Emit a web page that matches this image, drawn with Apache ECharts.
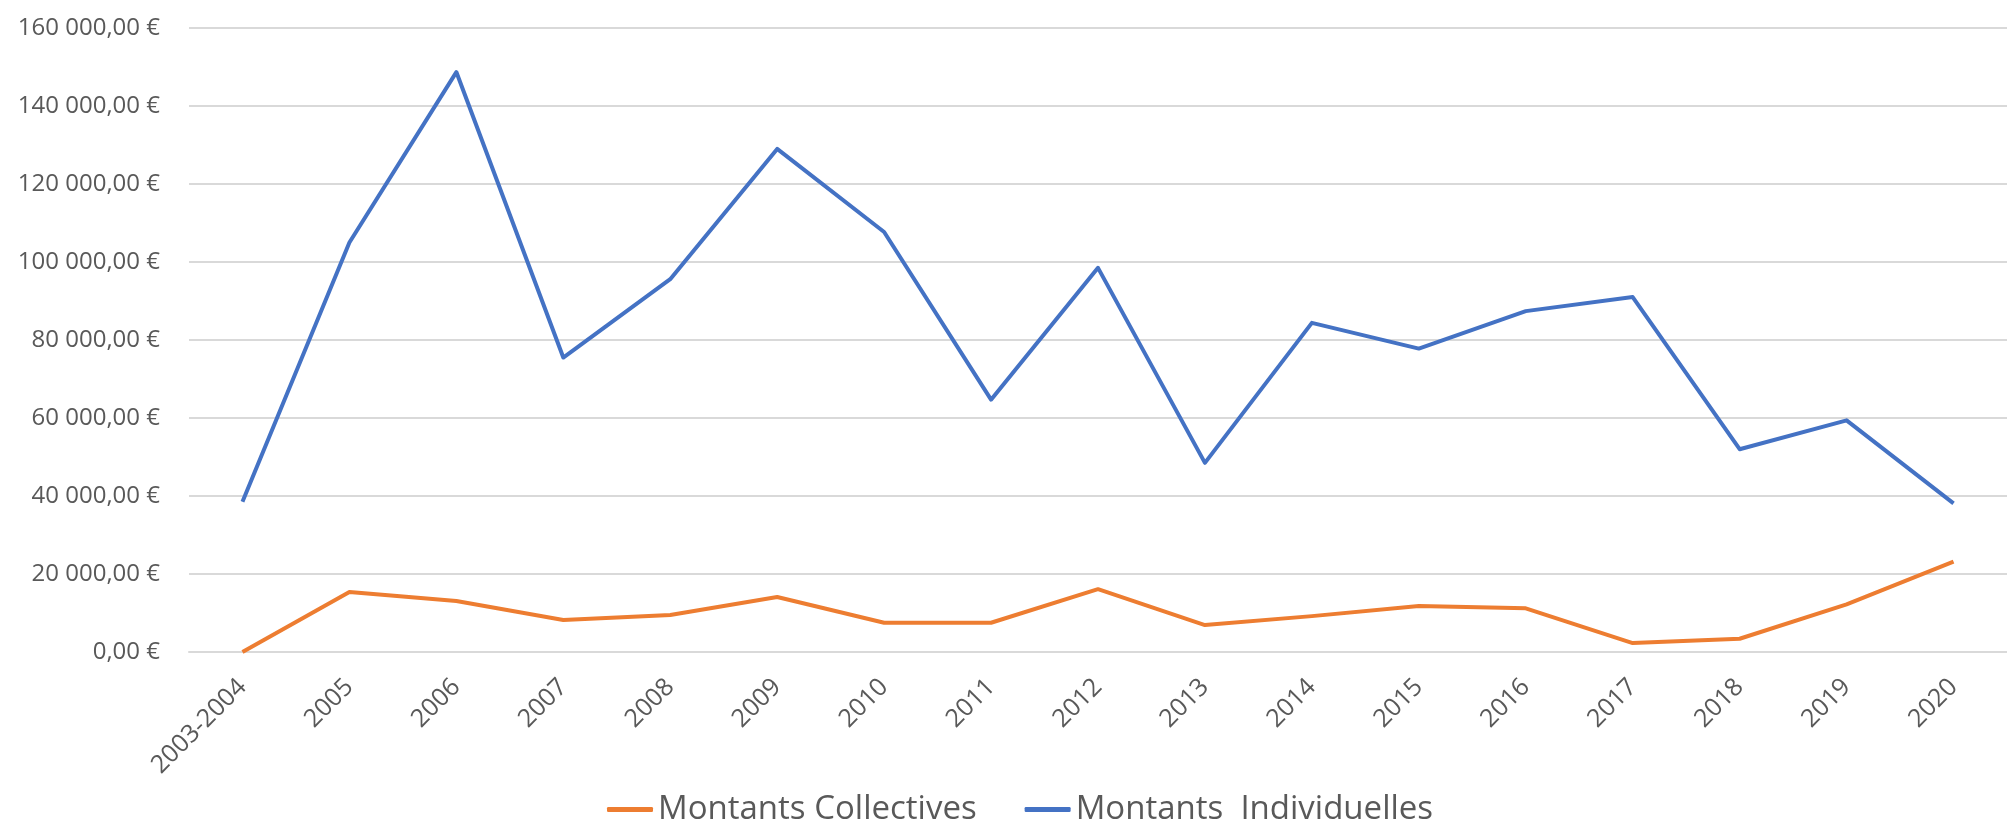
<!DOCTYPE html>
<html>
<head>
<meta charset="utf-8">
<script src="https://cdn.jsdelivr.net/npm/echarts@6/dist/echarts.min.js"></script>
<style>
html,body{margin:0;padding:0;background:#fff;}
#chart{width:2007px;height:821px;}
</style>
</head>
<body>
<div id="chart"></div>
<script>
const categories = ["2003-2004","2005","2006","2007","2008","2009","2010","2011","2012","2013","2014","2015","2016","2017","2018","2019","2020"];
const montantsCollectives = [0, 15400, 13100, 8200, 9500, 14100, 7500, 7500, 16100, 6900, 9200, 11800, 11200, 2300, 3400, 12200, 23200];
const montantsIndividuelles = [38500, 105000, 148700, 75500, 95600, 129000, 107700, 64700, 98500, 48500, 84400, 77800, 87400, 91000, 52000, 59400, 38100];
const seriesNames = ["Montants Collectives", "Montants  Individuelles"];
const yMin = 0, yMax = 160000, yStep = 20000;

function fmtEuro(v){
  const s = String(Math.round(v)).replace(/\B(?=(\d{3})+(?!\d))/g, "\u00a0");
  return s + ",00 \u20ac";
}

const chart = echarts.init(document.getElementById('chart'), null, {renderer:'canvas'});
const font = '"Open Sans", "Noto Sans", sans-serif';
chart.setOption({
  animation:false,
  backgroundColor:'#ffffff',
  textStyle:{fontFamily:font},
  grid:{left:189, right:-13, top:28, bottom:169, containLabel:false},
  legend:{
    data:seriesNames,
    left:602, top:788,
    icon:'roundRect', itemWidth:46, itemHeight:5, itemGap:48,
    textStyle:{fontFamily:font, fontSize:33, color:'#595959', padding:[0,0,0,0]}
  },
  xAxis:{
    type:'category', data:categories, boundaryGap:true,
    axisLine:{show:true, lineStyle:{color:'#D9D9D9', width:2}},
    axisTick:{show:false},
    axisLabel:{rotate:45, margin:31, interval:0, fontFamily:font, fontSize:25, color:'#595959'},
    splitLine:{show:false}
  },
  yAxis:{
    type:'value', min:yMin, max:yMax, interval:yStep,
    axisLine:{show:false}, axisTick:{show:false},
    axisLabel:{margin:29, fontFamily:font, fontSize:24, color:'#595959', formatter:fmtEuro},
    splitLine:{lineStyle:{color:'#D9D9D9', width:2}}
  },
  series:[
    {name:seriesNames[0], type:'line', data:montantsCollectives, symbol:'none', smooth:false,
     lineStyle:{width:4, color:'#ED7D31', join:'round'}, itemStyle:{color:'#ED7D31'}},
    {name:seriesNames[1], type:'line', data:montantsIndividuelles, symbol:'none', smooth:false,
     lineStyle:{width:4, color:'#4472C4', join:'round'}, itemStyle:{color:'#4472C4'}}
  ]
});
</script>
</body>
</html>
